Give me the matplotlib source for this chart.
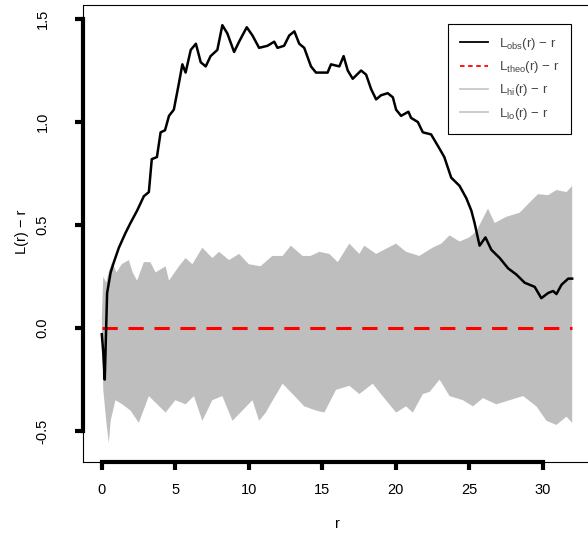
import matplotlib
matplotlib.use('Agg')
import matplotlib.pyplot as plt
import numpy as np
from matplotlib.lines import Line2D

plt.rcParams['font.family'] = ['Liberation Sans', 'DejaVu Sans']
plt.rcParams['mathtext.fontset'] = 'custom'
plt.rcParams['mathtext.rm'] = 'Liberation Sans'

# observed L(r) - r
r_obs = [0, 0.1, 0.2, 0.36, 0.6, 0.82, 1.16, 1.6, 1.95, 2.4, 2.86, 3.2, 3.4, 3.75, 4.0, 4.3,
         4.57, 4.9, 5.25, 5.48, 5.7, 6.05, 6.4, 6.73, 7.07, 7.4, 7.86, 8.2, 8.54, 9.0, 9.34,
         9.86, 10.25, 10.7, 11.27, 11.73, 11.95, 12.4, 12.75, 13.1, 13.43, 13.77, 14.23,
         14.57, 15.02, 15.36, 15.59, 16.16, 16.45, 16.73, 17.07, 17.64, 17.98, 18.32, 18.66,
         19.0, 19.45, 19.8, 20.02, 20.36, 20.86, 21.04, 21.5, 21.84, 22.4, 22.98, 23.3,
         23.77, 24.34, 24.8, 25.14, 25.36, 25.7, 26.1, 26.5, 27.07, 27.64, 28.2, 28.77,
         29.45, 29.9, 30.36, 30.7, 30.93, 31.27, 31.73, 32.0]
l_obs = [-0.03, -0.12, -0.25, 0.17, 0.27, 0.32, 0.39, 0.46, 0.51, 0.57, 0.64, 0.66, 0.82,
         0.83, 0.95, 0.96, 1.03, 1.06, 1.19, 1.28, 1.24, 1.35, 1.38, 1.29, 1.27, 1.32, 1.35,
         1.47, 1.43, 1.34, 1.39, 1.46, 1.42, 1.36, 1.37, 1.39, 1.36, 1.37, 1.42, 1.44, 1.38,
         1.36, 1.27, 1.24, 1.24, 1.24, 1.28, 1.27, 1.32, 1.25, 1.21, 1.25, 1.23, 1.16, 1.11,
         1.13, 1.14, 1.12, 1.06, 1.03, 1.05, 1.02, 1.00, 0.95, 0.94, 0.87, 0.83, 0.73, 0.69,
         0.63, 0.57, 0.51, 0.40, 0.44, 0.38, 0.34, 0.29, 0.26, 0.22, 0.20, 0.145, 0.17, 0.18,
         0.165, 0.21, 0.24, 0.24]

# envelope upper
r_hi = [0, 0.1, 0.3, 0.5, 0.7, 1.0, 1.36, 1.84, 2.1, 2.4, 2.86, 3.3, 3.66, 4.34, 4.57, 5.25,
        5.7, 6.16, 6.84, 7.52, 7.98, 8.66, 9.34, 10.0, 10.8, 11.6, 12.3, 12.86, 13.66, 14.2,
        14.8, 15.48, 16.05, 16.84, 17.52, 17.86, 18.66, 19.2, 20.02, 20.7, 21.6, 22.5, 23.1,
        23.66, 24.34, 25.0, 25.48, 26.27, 26.73, 27.52, 28.43, 29.11, 29.68, 30.36, 30.93,
        31.61, 32.0]
l_hi = [0.05, 0.25, 0.22, 0.28, 0.32, 0.27, 0.31, 0.33, 0.27, 0.23, 0.32, 0.32, 0.27, 0.30,
        0.23, 0.30, 0.34, 0.31, 0.39, 0.34, 0.37, 0.33, 0.36, 0.31, 0.30, 0.35, 0.35, 0.40,
        0.35, 0.35, 0.37, 0.36, 0.32, 0.41, 0.36, 0.40, 0.36, 0.38, 0.41, 0.37, 0.35, 0.39,
        0.41, 0.45, 0.42, 0.44, 0.47, 0.58, 0.51, 0.54, 0.56, 0.61, 0.65, 0.645, 0.67, 0.66,
        0.69]

# envelope lower
r_lo = [0, 0.1, 0.3, 0.48, 0.6, 0.93, 1.39, 1.95, 2.52, 3.2, 3.77, 4.34, 5.0, 5.7, 6.27,
        6.84, 7.52, 8.2, 8.89, 9.57, 10.25, 10.7, 11.16, 11.39, 12.3, 12.98, 13.77, 14.57,
        15.14, 15.93, 16.84, 17.52, 18.43, 19.1, 20.02, 20.7, 21.16, 21.84, 22.3, 22.98,
        23.66, 24.57, 25.25, 25.93, 26.84, 27.75, 28.66, 29.57, 30.25, 30.93, 31.61, 32.0]
l_lo = [-0.05, -0.3, -0.45, -0.56, -0.45, -0.35, -0.37, -0.40, -0.46, -0.33, -0.37, -0.41,
        -0.35, -0.37, -0.33, -0.45, -0.35, -0.33, -0.45, -0.40, -0.35, -0.45, -0.41, -0.38,
        -0.27, -0.32, -0.38, -0.40, -0.41, -0.30, -0.28, -0.32, -0.27, -0.33, -0.41, -0.38,
        -0.41, -0.32, -0.31, -0.25, -0.33, -0.35, -0.38, -0.34, -0.37, -0.35, -0.33, -0.38,
        -0.45, -0.47, -0.43, -0.46]

x_ticks = [0, 5, 10, 15, 20, 25, 30]
y_ticks = [-0.5, 0.0, 0.5, 1.0, 1.5]

W, H = 588, 539
fig = plt.figure(figsize=(W / 100, H / 100), dpi=100)
ax = fig.add_axes([83 / W, 77 / H, 508 / W, 457 / H])

# envelope polygon
ax.fill(np.concatenate([r_hi, r_lo[::-1]]), np.concatenate([l_hi, l_lo[::-1]]),
        color='#bebebe', lw=0)
ax.plot([0, 32], [0, 0], color='red', lw=2.2, ls=(0, (5, 3.5)))
ax.plot(r_obs, l_obs, color='black', lw=1.8)

ax.set_xlim(-1.28, 33.28)
ax.set_ylim(-0.65, 1.568)

for s in ['top', 'right']:
    ax.spines[s].set_visible(False)
ax.spines['left'].set_bounds(-0.5, 1.5)
ax.spines['bottom'].set_bounds(0, 30)
ax.spines['left'].set_linewidth(3)
ax.spines['bottom'].set_linewidth(3)
# thin box
ax.plot([0, 0, 1, 1, 0], [0, 1, 1, 0, 0], transform=ax.transAxes, color='black',
        lw=0.8, clip_on=False)

ax.set_xticks(x_ticks)
ax.set_xticklabels([str(t) for t in x_ticks])
ax.set_yticks(y_ticks)
ax.set_yticklabels(['%.1f' % t for t in y_ticks], rotation=90, va='center')
ax.tick_params(axis='both', width=3, length=6, labelsize=10.5)
ax.tick_params(axis='x', pad=9)
ax.tick_params(axis='y', pad=18)

ax.set_xlabel('r', fontsize=10.5)
ax.set_ylabel('L(r) \u2212 r', fontsize=10.5)
ax.xaxis.set_label_coords((337 - 83) / 508, (462 - 524) / 457)
ax.yaxis.set_label_coords((22 - 83) / 508, (462 - 232) / 457)
ax.xaxis.label.set_va('center')
ax.yaxis.label.set_va('center')

handles = [Line2D([], [], color='black', lw=1.3),
           Line2D([], [], color='red', lw=1.3, ls=(0, (2.5, 2))),
           Line2D([], [], color='#c8c8c8', lw=1.3),
           Line2D([], [], color='#c8c8c8', lw=1.3)]
labels = [r'L$_{\mathrm{obs}}$(r) $-$ r', r'L$_{\mathrm{theo}}$(r) $-$ r',
          r'L$_{\mathrm{hi}}$(r) $-$ r', r'L$_{\mathrm{lo}}$(r) $-$ r']
leg = ax.legend(handles, labels, loc='upper left', bbox_to_anchor=(448 / W, 1 - 24 / H),
                bbox_transform=fig.transFigure, fancybox=False, edgecolor='black',
                framealpha=1, fontsize=9.5, handlelength=2.1, labelspacing=0.55,
                borderpad=0.9, borderaxespad=0, handletextpad=0.85)
leg.get_frame().set_linewidth(0.8)
for t in leg.get_texts():
    t.set_color('#444444')

fig.savefig('out.png', dpi=100)
